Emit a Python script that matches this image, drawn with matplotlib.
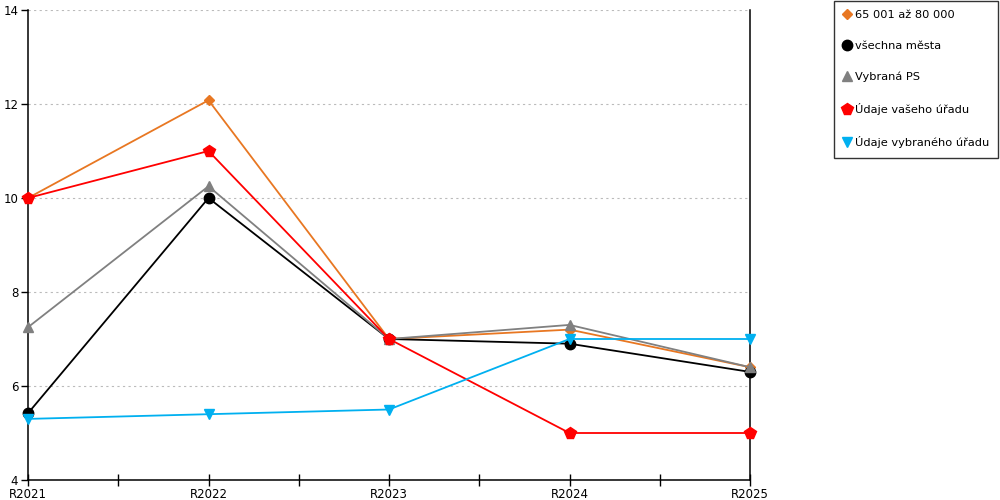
import matplotlib
matplotlib.use("Agg")
import matplotlib.pyplot as plt
import numpy as np

years = ["R2021", "R2022", "R2023", "R2024", "R2025"]
series_names = [
    "65 001 až 80 000",
    "všechna města",
    "Vybraná PS",
    "Údaje vašeho úřadu",
    "Údaje vybraného úřadu",
]
orange_vals = [10.0, 12.08, 7.0, 7.2, 6.4]
black_vals = [5.42, 10.0, 7.0, 6.9, 6.3]
gray_vals = [7.25, 10.25, 7.0, 7.3, 6.4]
red_vals = [10.0, 11.0, 7.0, 5.0, 5.0]
blue_vals = [5.3, 5.4, 5.5, 7.0, 7.0]
y_ticks = [4, 6, 8, 10, 12, 14]

styles = [
    ("#E87722", "D", 5.5),
    ("#000000", "o", 7.5),
    ("#808080", "^", 7.5),
    ("#FF0000", "p", 8.5),
    ("#00B0F0", "v", 7.5),
]
all_vals = [orange_vals, black_vals, gray_vals, red_vals, blue_vals]

plt.rcParams["font.family"] = ["DejaVu Sans"]

fig = plt.figure(figsize=(10, 5), dpi=100)
ax = fig.add_axes([0.028, 0.04, 0.722, 0.94])

x = np.arange(len(years))
handles = []
for name, vals, (color, marker, ms) in zip(series_names, all_vals, styles):
    (h,) = ax.plot(x, vals, color=color, marker=marker, markersize=ms,
                   linewidth=1.3, label=name, clip_on=False, zorder=3)
    handles.append(h)

ax.set_xlim(0, len(years) - 1)
ax.set_ylim(4, 14)
ax.set_xticks(x)
ax.set_xticklabels(years, fontsize=8.5)
ax.set_xticks(x[:-1] + 0.5, minor=True)
ax.set_yticks(y_ticks)
ax.set_yticklabels([str(v) for v in y_ticks], fontsize=8.5)
ax.tick_params(axis="x", which="both", direction="inout", length=8, width=1, pad=2)
ax.tick_params(axis="y", direction="out", length=5, width=1, pad=2)
ax.yaxis.grid(True, linestyle=(0, (2, 3)), color="#bbbbbb", linewidth=0.8)
ax.set_axisbelow(True)
ax.spines["top"].set_visible(False)
for side in ("left", "bottom", "right"):
    ax.spines[side].set_linewidth(1.1)
    ax.spines[side].set_color("black")

leg = fig.legend(handles=handles, loc="upper left", bbox_to_anchor=(0.834, 0.999),
                 frameon=True, fancybox=False, fontsize=8.2, handlelength=0.7,
                 handletextpad=0.35, labelspacing=1.85, borderpad=0.8,
                 borderaxespad=0)
for h in leg.legend_handles:
    h.set_linestyle("none")
leg.get_frame().set_edgecolor("black")
leg.get_frame().set_linewidth(1.0)

fig.savefig("out.png", dpi=100)
